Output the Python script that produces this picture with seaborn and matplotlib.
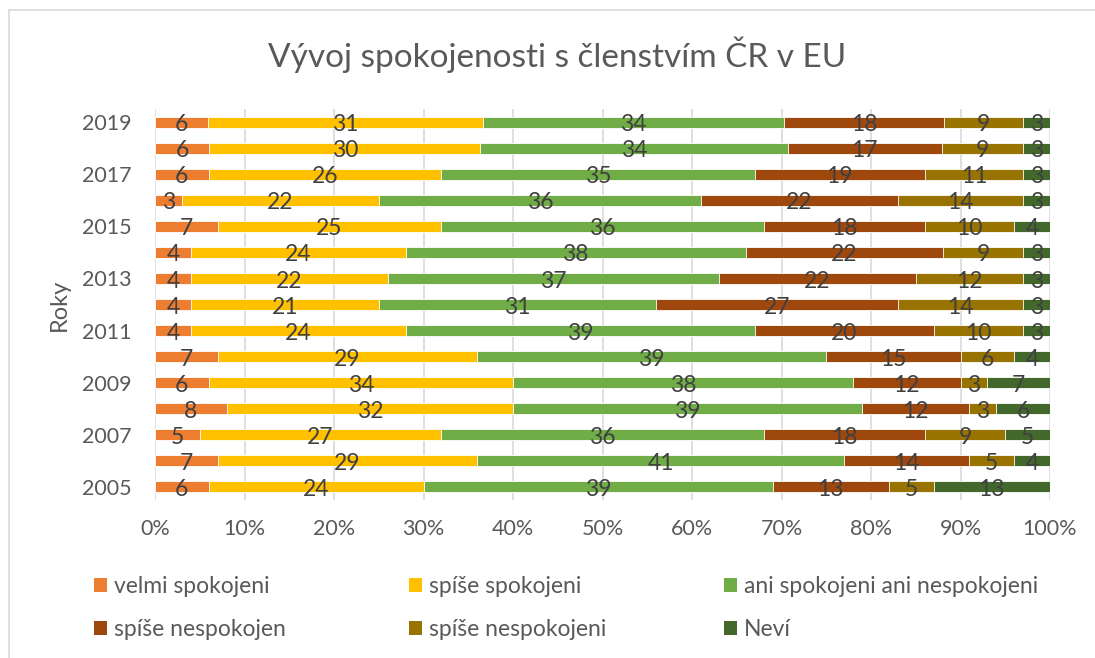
import numpy as np
import pandas as pd
import matplotlib
matplotlib.use("Agg")
import matplotlib.pyplot as plt
import seaborn as sns
from matplotlib.patches import Patch
from matplotlib.lines import Line2D

years = ["2019", "2018", "2017", "2016", "2015", "2014", "2013", "2012",
         "2011", "2010", "2009", "2008", "2007", "2006", "2005"]
series_names = ["velmi spokojeni", "spíše spokojeni", "ani spokojeni ani nespokojeni",
                "spíše nespokojen", "spíše nespokojeni", "Neví"]
velmi_spokojeni = [6, 6, 6, 3, 7, 4, 4, 4, 4, 7, 6, 8, 5, 7, 6]
spise_spokojeni = [31, 30, 26, 22, 25, 24, 22, 21, 24, 29, 34, 32, 27, 29, 24]
ani_ani = [34, 34, 35, 36, 36, 38, 37, 31, 39, 39, 38, 39, 36, 41, 39]
spise_nespokojen = [18, 17, 19, 22, 18, 22, 22, 27, 20, 15, 12, 12, 18, 14, 13]
spise_nespokojeni = [9, 9, 11, 14, 10, 9, 12, 14, 10, 6, 3, 3, 9, 5, 5]
nevi = [3, 3, 3, 3, 4, 3, 3, 3, 3, 4, 7, 6, 5, 4, 13]
colors = ["#ED7D31", "#FFC000", "#70AD47", "#9E480E", "#997300", "#43682B"]
x_ticks = [0, 10, 20, 30, 40, 50, 60, 70, 80, 90, 100]
x_tick_labels = [f"{t}%" for t in x_ticks]
shown_years = ["2019", "2017", "2015", "2013", "2011", "2009", "2007", "2005"]

sns.set_theme(style="white")
FONT = ["Lato", "DejaVu Sans"]
plt.rcParams["font.family"] = FONT

vals = np.array([velmi_spokojeni, spise_spokojeni, ani_ani,
                 spise_nespokojen, spise_nespokojeni, nevi], dtype=float)
totals = vals.sum(axis=0)
pct = vals / totals * 100.0
cum = np.cumsum(pct, axis=0)
df = pd.DataFrame({"year": years})
for k, name in enumerate(series_names):
    df[name] = cum[k]

W, H = 1095, 658
fig = plt.figure(figsize=(W / 100, H / 100), dpi=100)
ax = fig.add_axes([155 / W, 1 - 500 / H, 895 / W, 391 / H])

# overlay cumulative bars from largest to smallest
for k in range(len(series_names) - 1, -1, -1):
    sns.barplot(data=df, x=series_names[k], y="year", order=years, orient="h",
                color=colors[k], width=0.42, edgecolor="white", linewidth=0.6,
                saturation=1, ax=ax)

# data labels
txt_col = "#404040"
for k in range(len(series_names)):
    for i in range(len(years)):
        left = cum[k, i] - pct[k, i]
        ax.text(left + pct[k, i] / 2, i + 0.1, f"{int(vals[k, i])}",
                ha="center", va="center", fontsize=16.5, color=txt_col)

ax.set_xlim(0, 100)
ax.set_xticks(x_ticks)
ax.set_xticklabels(x_tick_labels)
ax.set_yticks(range(len(years)))
ax.set_yticklabels([y if y in shown_years else "" for y in years])
ax.tick_params(axis="x", length=0, pad=14, labelsize=15.5, labelcolor="#595959")
ax.tick_params(axis="y", length=0, pad=17, labelsize=15.5, labelcolor="#595959")
ax.grid(axis="x", color="#D9D9D9", linewidth=1.2)
ax.grid(axis="y", visible=False)
ax.set_axisbelow(True)
for s in ax.spines.values():
    s.set_visible(False)
ax.set_xlabel("")
ax.set_ylabel("Roky", fontsize=17, color="#595959")
ax.yaxis.set_label_coords((70 - 155) / 895, 0.5)

# title
fig.text(557 / W, 1 - 67 / H, "Vývoj spokojenosti s členstvím ČR v EU",
         ha="center", va="baseline", fontsize=24, color="#595959")

# legends, one per column
handles = [Patch(facecolor=c, edgecolor="none") for c in colors]
col_x = [94, 409, 724]
for c in range(3):
    idx = [c, c + 3]
    fig.legend([handles[j] for j in idx], [series_names[j] for j in idx],
               loc="upper left", bbox_to_anchor=(col_x[c] / W, 1 - 576 / H),
               frameon=False, fontsize=16.5, labelcolor="#595959",
               handlelength=0.58, handleheight=0.58, handletextpad=0.28,
               labelspacing=0.97, borderpad=0, borderaxespad=0)

# chart border
fig.add_artist(Line2D([9 / W, 9 / W], [0, 1 - 10 / H], color="#D9D9D9", lw=1.2))
fig.add_artist(Line2D([9 / W, 1], [1 - 10 / H, 1 - 10 / H], color="#D9D9D9", lw=1.2))

fig.savefig("out.png", dpi=100, facecolor="white")
